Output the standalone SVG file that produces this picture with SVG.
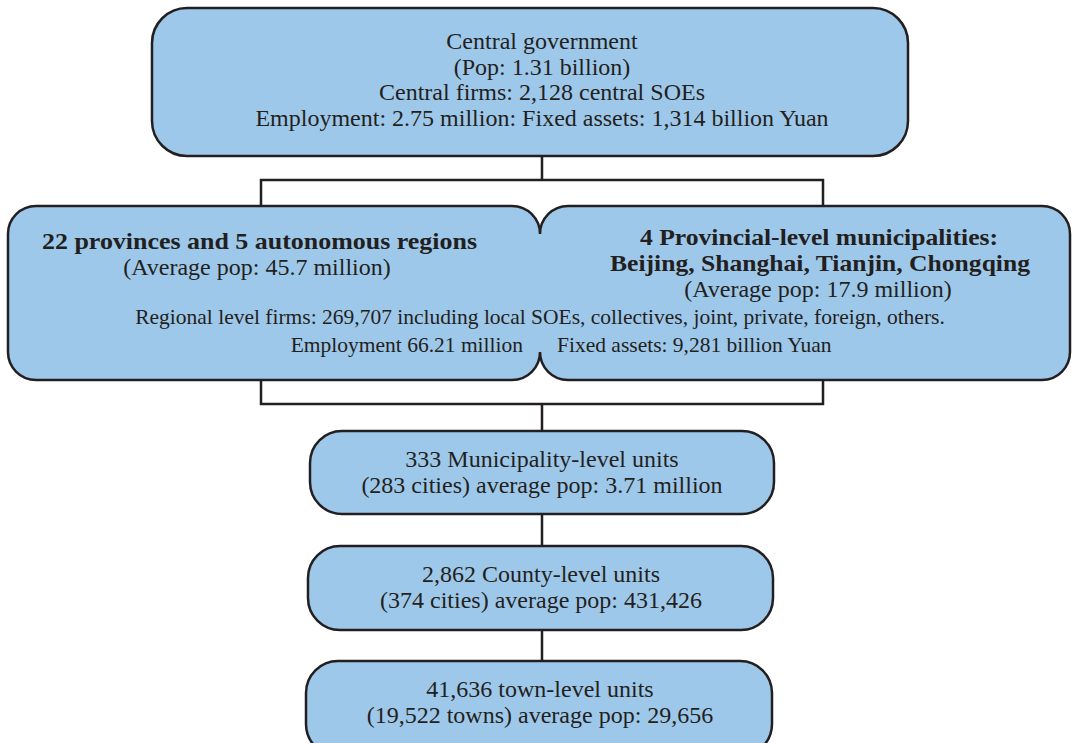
<svg xmlns="http://www.w3.org/2000/svg" width="1072" height="743" viewBox="0 0 1072 743">
<style>
.box{fill:#9ec8ea;stroke:#231f20;stroke-width:2.5}
.con{fill:none;stroke:#231f20;stroke-width:2.5}
text{font-family:"Liberation Serif","Times New Roman",serif;fill:#231f20;font-size:24px}
.c{text-anchor:middle}
.b{font-weight:bold}
.s{font-size:21.5px}
</style>
<rect width="1072" height="743" fill="#ffffff"/>
<g id="connectors">
<path class="con" d="M542 156V180M261 206V180H823V206"/>
<path class="con" d="M261 380V404H823V380M542 404V431"/>
<path class="con" d="M542 514V546M542 630V661"/>
</g>
<g id="central">
<rect class="box" x="152" y="8" width="756" height="148" rx="35"/>
<text class="c" x="542" y="49">Central government</text>
<text class="c" x="542" y="75">(Pop: 1.31 billion)</text>
<text class="c" x="542" y="100">Central firms: 2,128 central SOEs</text>
<text class="c" x="542" y="126">Employment: 2.75 million: Fixed assets: 1,314 billion Yuan</text>
</g>
<g id="regional">
<path class="box" d="M36 206H512A28 28 0 0 1 540 234A28 28 0 0 1 568 206H1042A28 28 0 0 1 1070 234V352A28 28 0 0 1 1042 380H568A28 28 0 0 1 540 352A28 28 0 0 1 512 380H36A28 28 0 0 1 8 352V234A28 28 0 0 1 36 206Z"/>
<text class="b" x="42" y="249" textLength="435" lengthAdjust="spacingAndGlyphs">22 provinces and 5 autonomous regions</text>
<text class="c" x="257" y="275">(Average pop: 45.7 million)</text>
<text class="c b" x="819" y="245" textLength="358" lengthAdjust="spacingAndGlyphs">4 Provincial-level municipalities:</text>
<text class="c b" x="820" y="271" textLength="420" lengthAdjust="spacingAndGlyphs">Beijing, Shanghai, Tianjin, Chongqing</text>
<text class="c" x="818" y="297">(Average pop: 17.9 million)</text>
<text class="c s" x="540" y="324">Regional level firms: 269,707 including local SOEs, collectives, joint, private, foreign, others.</text>
<text class="s" x="523" y="352" text-anchor="end">Employment 66.21 million</text>
<text class="s" x="557" y="352">Fixed assets: 9,281 billion Yuan</text>
</g>
<g id="municipality">
<rect class="box" x="310" y="431" width="464" height="83" rx="32"/>
<text class="c" x="542" y="467">333 Municipality-level units</text>
<text class="c" x="542" y="493">(283 cities) average pop: 3.71 million</text>
</g>
<g id="county">
<rect class="box" x="308" y="546" width="465" height="84" rx="32"/>
<text class="c" x="541" y="582">2,862 County-level units</text>
<text class="c" x="541" y="608">(374 cities) average pop: 431,426</text>
</g>
<g id="town">
<rect class="box" x="306" y="661" width="466" height="95" rx="32"/>
<text class="c" x="540" y="697">41,636 town-level units</text>
<text class="c" x="540" y="723">(19,522 towns) average pop: 29,656</text>
</g>
</svg>
